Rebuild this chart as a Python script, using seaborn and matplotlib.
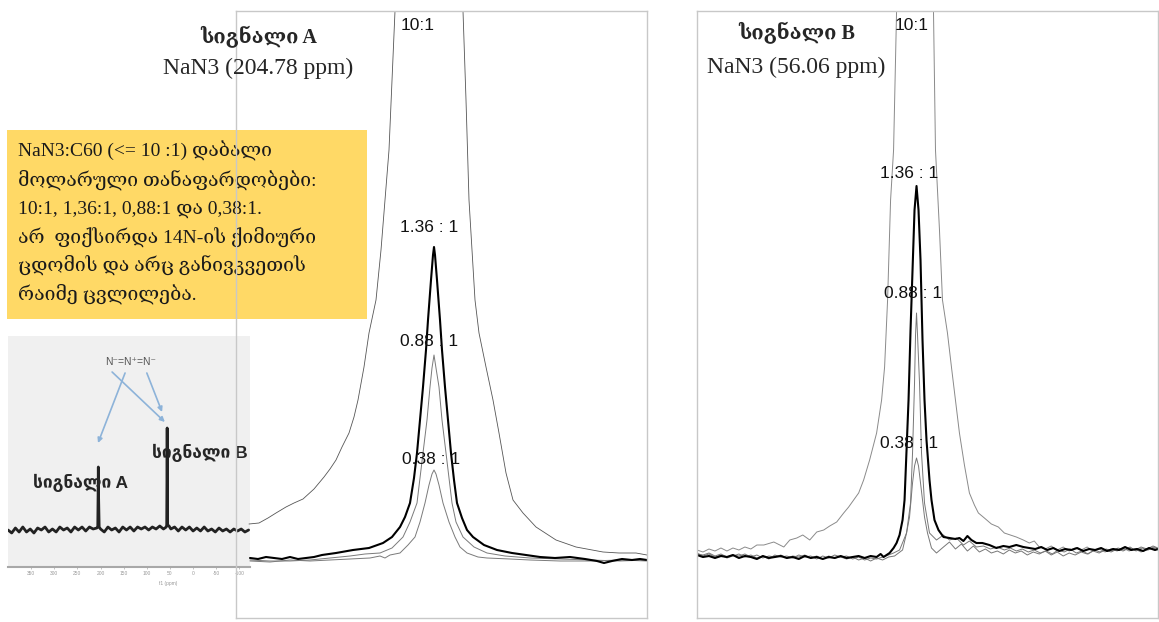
import numpy as np
import pandas as pd
import seaborn as sns
import matplotlib.pyplot as plt
from matplotlib.patches import Rectangle

W, H = 1159, 622

# ---------------- სიგნალი A (x: shift offset, y: intensity) ----------------
a10_x = [-185, -175, -166, -158, -148, -140, -131, -120, -110, -104, -98, -92, -85, -80, -76, -70, -65, -58, -53, -45,
         -39, -37, -5, 27, 29, 32, 35, 41, 45, 52, 59, 65, 72, 79, 89, 102, 122, 142, 169, 185, 202, 213]
a10_y = [35, 36, 41, 46, 52, 56, 60, 70, 82, 90, 99, 112, 126, 142, 159, 192, 226, 259, 309, 409,
         548, 599, 959, 599, 548, 459, 359, 259, 226, 192, 159, 126, 86, 59, 46, 32, 19, 12, 7, 6, 6, 4]

a136_x = [-184, -176, -168, -160, -152, -144, -136, -128, -120, -112, -98, -81, -65, -51, -42, -34, -29, -24, -20, -17,
          -14, -11, -8, -6, -3, -1, 0, 1, 3, 6, 8, 11, 14, 17, 20, 23, 28, 33, 39, 50,
          63, 78, 92, 106, 121, 136, 151, 163, 170, 178, 188, 198, 206, 213]
a136_y = [1, 0, 2, 1, 0, 2, 0, 1, 2, 4, 6, 9, 11, 16, 22, 32, 42, 56, 81, 106,
          139, 172, 209, 239, 279, 304, 312, 304, 279, 239, 209, 172, 139, 106, 79, 56, 41, 29, 22, 14,
          9, 6, 4, 2, 1, 2, 0, -2, -4, -2, 0, -1, 0, -1]

a088_x = [-184, -164, -144, -124, -104, -84, -69, -54, -42, -31, -24, -17, -14, -11, -7, -4, -2, 0, 2, 5,
          8, 12, 15, 18, 22, 29, 40, 53, 71, 96, 126, 156, 186, 213]
a088_y = [-1, -2, -2, -1, 1, 3, 5, 6, 11, 22, 37, 56, 81, 106, 139, 172, 191, 204, 191, 172,
          139, 106, 81, 56, 37, 22, 12, 6, 3, 1, 0, -1, -2, -1]

a038_x = [-184, -164, -144, -124, -104, -84, -64, -54, -49, -44, -34, -26, -19, -14, -9, -5, -2, 0, 2, 5,
          9, 15, 21, 26, 33, 44, 53, 76, 96, 126, 156, 186, 213]
a038_y = [-2, -3, -1, -2, -1, 0, 1, 3, 1, 4, 6, 14, 22, 37, 56, 74, 85, 89, 85, 74,
          56, 37, 22, 12, 6, 2, 1, 0, -1, -2, -2, -1, -2]

# ---------------- სიგნალი B ----------------
b10_x = [-220, -214, -208, -202, -196, -190, -184, -178, -172, -166, -160,
         -153, -143, -133, -127, -120, -114, -107, -100, -93, -87, -80, -73, -68, -63, -58,
         -53, -47, -40, -35, -32, -29, -26, -23, -20, -19, -2, 16, 17, 19, 23,
         26, 31, 35, 39, 43, 48, 53, 58, 62, 68, 75, 82, 88, 94, 100, 107, 113, 118, 123,
         129, 135, 141, 147, 153, 159, 165, 171, 177, 183, 189, 195, 201, 207, 213, 219, 225, 231, 237, 242]
b10_y = [3, 1, 4, 2, 5, 2, 5, 3, 6, 4, 8,
         8, 11, 6, 13, 15, 18, 13, 21, 23, 27, 31, 40, 46, 53, 60,
         73, 93, 120, 153, 186, 253, 353, 403, 542, 593, 953, 593, 542, 403, 323,
         253, 220, 186, 153, 120, 88, 60, 48, 40, 35, 29, 26, 20, 18, 16, 13, 10, 12, 6,
         4, 7, 3, 6, 2, 5, 3, 6, 2, 4, 1, 4, 2, 5, 2, 4, 1, 3, 5, 3]

b136_x = [-220, -214, -208, -202, -196, -190, -184, -178, -172, -166, -160, -154, -148, -142, -136, -130,
          -124, -118, -112, -106, -100, -94, -88, -82, -76, -70, -64, -58, -52, -46, -40,
          -36, -33, -27, -23, -20, -17, -14, -12, -10, -8, -6, -4, -2, 0, 2, 4, 6, 8, 10, 13, 15, 18,
          22, 27, 33, 39, 43, 47, 51, 55, 60, 66, 73, 80, 87, 93, 100, 107, 113,
          119, 125, 131, 137, 143, 149, 155, 161, 167, 173, 179, 185, 191, 197, 203, 209, 215, 221, 227, 233, 239,
          242]
b136_y = [-2, -4, -3, -5, -3, -4, -2, -5, -3, -4, -6, -3, -5, -4, -3, -5,
          -4, -6, -3, -5, -4, -6, -4, -5, -3, -5, -4, -3, -5, -3, -4,
          -1, -4, 0, 5, 10, 18, 33, 53, 103, 153, 223, 283, 343, 367, 343, 293, 213, 153, 113, 73, 53, 33,
          23, 16, 15, 14, 15, 12, 17, 13, 10, 10, 8, 5, 7, 6, 8, 6, 5,
          4, 6, 3, 5, 2, 4, 3, 5, 2, 4, 3, 5, 2, 4, 3, 6, 3, 4, 2, 5, 3,
          4]

b088_x = [-220, -214, -208, -202, -196, -190, -184, -178, -172, -166, -160, -154, -148, -142, -136, -130,
          -124, -118, -112, -106, -100, -94, -88, -82, -76, -70, -64, -58, -52, -46, -40, -34, -28,
          -23, -17, -10, -6, -4, -2, -1, 0, 1, 3, 5, 8, 13, 20, 27, 33, 40, 47, 53, 60, 67, 74, 81, 88,
          94, 100, 106, 112, 118, 124, 130, 136, 142, 148, 154, 160, 166, 172, 178, 184, 190, 196, 202,
          208, 214, 220, 226, 232, 238, 242]
b088_y = [0, -3, -1, -4, -2, -5, -3, -1, -4, -2, -5, -3, -6, -2, -4, -3,
          -5, -2, -4, -3, -6, -3, -5, -2, -4, -3, -6, -4, -7, -5, -6, -4, -2,
          0, 3, 20, 50, 100, 170, 218, 240, 218, 170, 100, 50, 20, 13, 18, 13, 15, 8, 12, 6, 7, 4, 6, 3,
          5, 2, 4, 1, 3, 0, 2, -1, 3, 1, 4, 0, 2, -1, 3, 1, 4, 2, 5,
          3, 6, 2, 5, 3, 6, 4]

b038_x = [-220, -214, -208, -202, -196, -190, -184, -178, -172, -166, -160, -154, -148, -142, -136, -130,
          -124, -118, -112, -106, -100, -94, -88, -82, -76, -70, -64, -58, -52, -46, -40, -34, -28, -22,
          -14, -10, -7, -4, -2, 0, 2, 4, 8, 11, 15, 20, 27, 33, 39, 45, 51, 57, 63, 69, 75,
          81, 87, 93, 99, 105, 111, 117, 123, 129, 135, 141, 147, 153, 159, 165, 171, 177, 183, 189,
          195, 201, 207, 213, 219, 225, 231, 237, 242]
b038_y = [-1, -2, 0, -3, -1, -4, -2, -3, -1, -4, -2, -5, -3, -4, -2, -5,
          -3, -4, -2, -5, -3, -6, -3, -5, -4, -6, -4, -7, -5, -8, -5, -7, -4, -3,
          3, 20, 36, 70, 87, 95, 87, 70, 36, 20, 5, 0, 6, 11, 4, 9, 2, 7, 1, 4, 0,
          2, -1, 3, 0, 2, -2, 1, -1, 2, -2, 1, -3, 0, -2, 1, -1, 2, 0, 3,
          1, 4, 2, 5, 3, 6, 4, 7, 5]

# ---------------- inset: full 14N spectrum ----------------
inset_ppm = [400, 392, 384, 376, 368, 360, 352, 344, 336, 328, 320, 312, 304, 296, 288, 280, 272, 264, 256, 248,
             240, 232, 224, 216, 208, 206, 205.2, 204.8, 204.3, 203, 200, 192, 184, 176, 168, 160, 152, 144, 136,
             128, 120, 112, 104, 96, 88, 80, 72, 64, 58, 57, 56.4, 56.0, 55.6, 55, 52, 48, 40, 32, 24, 16, 8, 0,
             -8, -16, -24, -32, -40, -48, -56, -64, -72, -80, -88, -96, -104, -112, -120]
inset_int = [0, -3, 2, -2, 3, -2, 1, -3, 2, 0, 3, -2, 1, -2, 3, 0, 2, -2, 3, 0,
             3, -1, 3, 1, 2, 3, 40, 63, 35, 3, 1, -2, 3, 0, 2, -2, 3, 0, 3,
             -1, 3, 1, 3, 0, 3, 1, 4, 1, 3, 5, 60, 102, 55, 5, 4, 1, 3, -1, 3, 0, 3, -1,
             2, -1, 3, -1, 1, -2, 2, -1, 1, -2, 1, -1, 1, -2, 0]
inset_ticks = [350, 300, 250, 200, 150, 100, 50, 0, -50, -100]
inset_tick_labels = ["350", "300", "250", "200", "150", "100", "50", "0", "-50", "-100"]

ratio_labels = ["10:1", "1.36 : 1", "0.88 : 1", "0.38 : 1"]

box_lines = ["NaN3:C60 (<= 10 :1) დაბალი",
             "მოლარული თანაფარდობები:",
             "10:1, 1,36:1, 0,88:1 და 0,38:1.",
             "არ  ფიქსირდა 14N-ის ქიმიური",
             "ცდომის და არც განივკვეთის",
             "რაიმე ცვლილება."]

sns.set_theme(style="white")
serif = ["Liberation Serif", "DejaVu Serif", "DejaVu Sans"]
sans = ["Liberation Sans", "DejaVu Sans"]
plt.rcParams["font.family"] = serif

fig = plt.figure(figsize=(W / 100, H / 100), dpi=100)


def box(x0, y0, x1, y1):
    return [x0 / W, 1 - y1 / H, (x1 - x0) / W, (y1 - y0) / H]


# inset spectrum (bottom layer)
ax_in = fig.add_axes(box(8, 336, 250, 567), zorder=1)
ax_in.set_facecolor("#f0f0f0")
sns.lineplot(x=inset_ppm, y=inset_int, ax=ax_in, color="#222222", linewidth=2.0)
ax_in.set_xlim(400, -123)
ax_in.set_ylim(-37, 194)
for s in ["top", "left", "right"]:
    ax_in.spines[s].set_visible(False)
ax_in.spines["bottom"].set_color("#a8a8a8")
ax_in.spines["bottom"].set_linewidth(1.5)
ax_in.set_yticks([])
ax_in.set_xticks(inset_ticks)
ax_in.set_xticklabels(inset_tick_labels, fontsize=3.5, color="#999999", family=sans)
ax_in.tick_params(axis="x", bottom=True, length=1.5, width=0.5, color="#aaaaaa", pad=1.5)
ax_in.set_xlabel("f1 (ppm)", fontsize=3.5, color="#999999", family=sans)
ax_in.xaxis.set_label_coords(0.66, -0.06)

ax_in.text(136, 168, "N⁻=N⁺=N⁻", fontsize=7.5, color="#555555", family=sans, ha="center", va="center")
arrow_style = dict(arrowstyle="-|>", color="#8db3d9", lw=1.2, mutation_scale=7, shrinkA=0, shrinkB=0)
ax_in.annotate("", xy=(205.5, 87), xytext=(147, 157), arrowprops=arrow_style)
ax_in.annotate("", xy=(67, 118), xytext=(100, 157), arrowprops=arrow_style)
ax_in.annotate("", xy=(61, 108), xytext=(175, 158), arrowprops=arrow_style)
ax_in.text(244, 47, "სიგნალი A", fontsize=12.5, fontweight="bold", family=sans, ha="center", va="center")
ax_in.text(-15, 77, "სიგნალი B", fontsize=12.5, fontweight="bold", family=sans, ha="center", va="center")

# yellow note box
fig.add_artist(Rectangle((7 / W, 1 - 319 / H), 360 / W, 189 / H, transform=fig.transFigure,
                         facecolor="#FFD966", edgecolor="none", zorder=1))
for line, base in zip(box_lines, [157, 186, 214, 243, 271, 300]):
    fig.text(18 / W, 1 - base / H, line, ha="left", va="baseline", fontsize=14,
             color="#1a1a1a", family=serif, zorder=2)


def spectrum_axes(rect, xlim, ylim):
    ax = fig.add_axes(box(*rect), zorder=3)
    ax.patch.set_visible(False)
    ax.set_xlim(*xlim)
    ax.set_ylim(*ylim)
    ax.set_xticks([])
    ax.set_yticks([])
    for s in ax.spines.values():
        s.set_color("#c8c8c8")
        s.set_linewidth(1.0)
    return ax


ax_a = spectrum_axes((236, 11, 647, 618), (-198, 213), (-59, 548))
sns.lineplot(x=a10_x, y=a10_y, ax=ax_a, color="#555555", linewidth=0.6)
sns.lineplot(x=a038_x, y=a038_y, ax=ax_a, color="#7a7a7a", linewidth=0.7)
sns.lineplot(x=a088_x, y=a088_y, ax=ax_a, color="#7a7a7a", linewidth=0.7)
sns.lineplot(x=a136_x, y=a136_y, ax=ax_a, color="black", linewidth=1.5)
ax_a.set_xlim(-198, 213)
ax_a.set_ylim(-59, 548)
for lab, pos in zip(ratio_labels, [(-16, 533), (-5, 331), (-5, 217), (-3, 100)]):
    ax_a.text(pos[0], pos[1], lab, ha="center", va="center", fontsize=12.5, family=sans, color="#111111")

ax_b = spectrum_axes((697, 11, 1158, 618), (-220, 242), (-65, 542))
sns.lineplot(x=b10_x, y=b10_y, ax=ax_b, color="#8a8a8a", linewidth=0.7)
sns.lineplot(x=b038_x, y=b038_y, ax=ax_b, color="#777777", linewidth=0.7)
sns.lineplot(x=b088_x, y=b088_y, ax=ax_b, color="#777777", linewidth=0.7)
sns.lineplot(x=b136_x, y=b136_y, ax=ax_b, color="black", linewidth=1.5)
ax_b.set_xlim(-220, 242)
ax_b.set_ylim(-65, 542)
for lab, pos in zip(ratio_labels, [(-5, 528), (-7, 380), (-3, 260), (-7, 110)]):
    ax_b.text(pos[0], pos[1], lab, ha="center", va="center", fontsize=12.5, family=sans, color="#111111")

# panel titles
fig.text(259 / W, 1 - 37 / H, "სიგნალი A", ha="center", va="center", fontsize=14.5,
         fontweight="bold", family=serif, zorder=5)
fig.text(258 / W, 1 - 68 / H, "NaN3 (204.78 ppm)", ha="center", va="center", fontsize=17,
         family=serif, zorder=5)
fig.text(797 / W, 1 - 33 / H, "სიგნალი B", ha="center", va="center", fontsize=14.5,
         fontweight="bold", family=serif, zorder=5)
fig.text(796 / W, 1 - 67 / H, "NaN3 (56.06 ppm)", ha="center", va="center", fontsize=17,
         family=serif, zorder=5)

fig.savefig("out.png", dpi=100, facecolor="white")
